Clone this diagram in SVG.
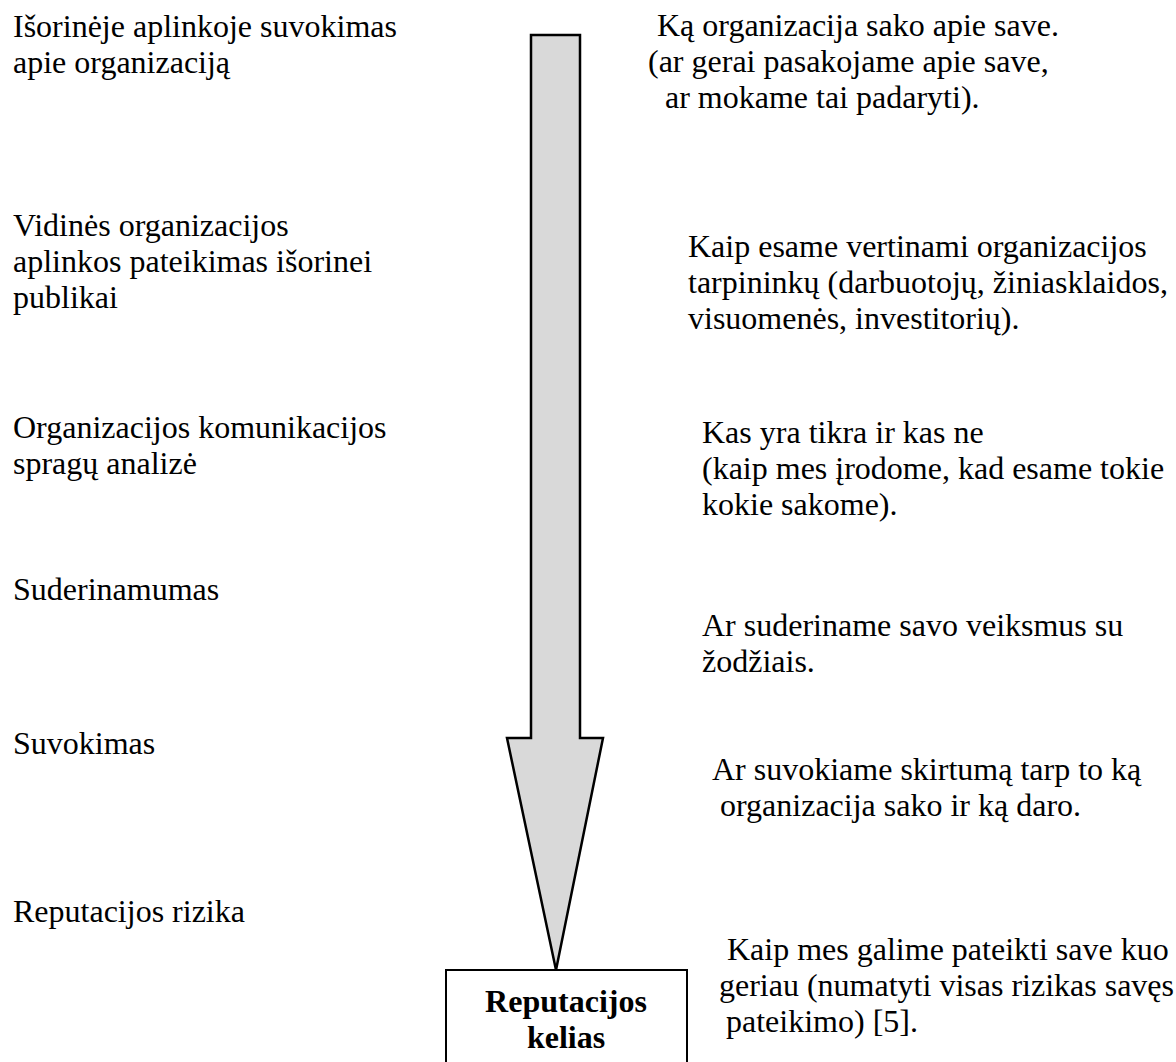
<svg xmlns="http://www.w3.org/2000/svg" width="1176" height="1062" viewBox="0 0 1176 1062" font-family="'Liberation Serif', 'Times New Roman', serif">
<style>
text{font-family:'Liberation Serif','Times New Roman',serif;font-size:32px;fill:#000}
.b{font-weight:bold;text-anchor:middle}
.arrow{fill:#d9d9d9;stroke:#000;stroke-width:2.5;stroke-linejoin:miter}
.box{fill:#fff;stroke:#000;stroke-width:2}
</style>
<rect width="1176" height="1062" fill="#fff"/>
<g id="connectors">
<path class="arrow" d="M531,35 H580 V738 H603 L556,970 L507,738 H531 Z"/>
</g>
<g id="node-left1"><text x="13" y="37">Išorinėje aplinkoje suvokimas</text><text x="13" y="73">apie organizaciją</text></g>
<g id="node-left2"><text x="13" y="236">Vidinės organizacijos</text><text x="13" y="272">aplinkos pateikimas išorinei</text><text x="13" y="308">publikai</text></g>
<g id="node-left3"><text x="13" y="438">Organizacijos komunikacijos</text><text x="13" y="474">spragų analizė</text></g>
<g id="node-left4"><text x="13" y="600">Suderinamumas</text></g>
<g id="node-left5"><text x="13" y="754">Suvokimas</text></g>
<g id="node-left6"><text x="13" y="922">Reputacijos rizika</text></g>
<g id="node-right1"><text x="657" y="36">Ką organizacija sako apie save.</text><text x="648" y="72">(ar gerai pasakojame apie save,</text><text x="665" y="108">ar mokame tai padaryti).</text></g>
<g id="node-right2"><text x="688" y="257">Kaip esame vertinami organizacijos</text><text x="688" y="293">tarpininkų (darbuotojų, žiniasklaidos,</text><text x="688" y="329">visuomenės, investitorių).</text></g>
<g id="node-right3"><text x="702" y="443">Kas yra tikra ir kas ne</text><text x="702" y="479">(kaip mes įrodome, kad esame tokie</text><text x="702" y="515">kokie sakome).</text></g>
<g id="node-right4"><text x="702" y="636">Ar suderiname savo veiksmus su</text><text x="702" y="672">žodžiais.</text></g>
<g id="node-right5"><text x="712" y="780">Ar suvokiame skirtumą tarp to ką</text><text x="720" y="816">organizacija sako ir ką daro.</text></g>
<g id="node-right6"><text x="727" y="960">Kaip mes galime pateikti save kuo</text><text x="719" y="996">geriau (numatyti visas rizikas savęs</text><text x="726" y="1032">pateikimo) [5].</text></g>
<g id="node-box"><rect class="box" x="446" y="970" width="241" height="100"/><text class="b" x="566" y="1012">Reputacijos</text><text class="b" x="566" y="1048">kelias</text></g>
</svg>
